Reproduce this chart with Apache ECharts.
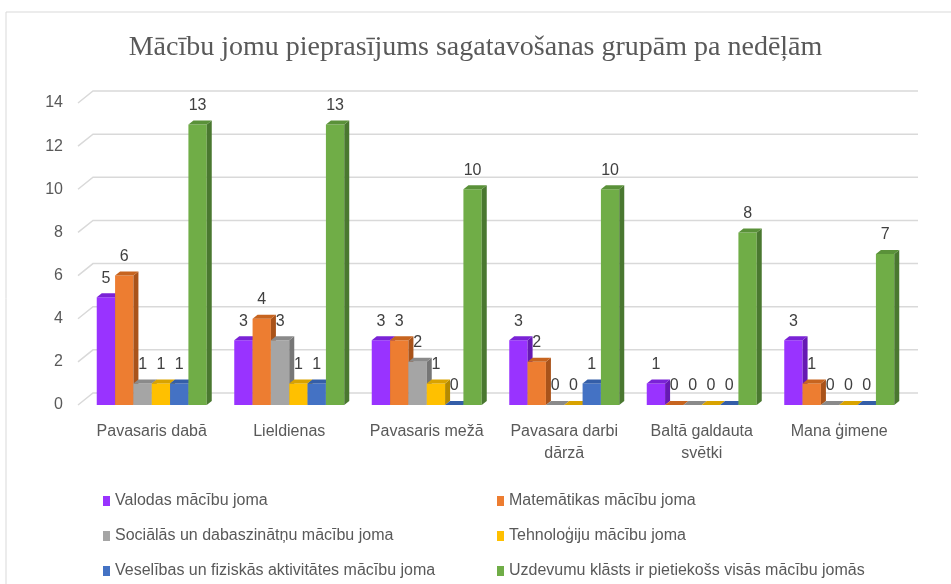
<!DOCTYPE html>
<html lang="lv">
<head>
    <meta charset="UTF-8">
    <title>Mācību jomu pieprasījums</title>
    <script src="https://cdn.jsdelivr.net/npm/echarts@6/dist/echarts.min.js"></script>
    <style>
        html, body { margin: 0; padding: 0; background: #fff; }
    </style>
</head>
<body>
<div id="main" style="width: 951px;height:584px;"></div>

<script type="text/javascript">
    // dati
    var categories = ['Pavasaris dabā', 'Lieldienas', 'Pavasaris mežā', 'Pavasara darbi\ndārzā', 'Baltā galdauta\nsvētki', 'Mana ģimene'];
    var seriesNames = [
        'Valodas mācību joma',
        'Matemātikas mācību joma',
        'Sociālās un dabaszinātņu mācību joma',
        'Tehnoloģiju mācību joma',
        'Veselības un fiziskās aktivitātes mācību joma',
        'Uzdevumu klāsts ir pietiekošs visās mācību jomās'
    ];
    var valodas = [5, 3, 3, 3, 1, 3];
    var matematika = [6, 4, 3, 2, 0, 1];
    var socialas = [1, 3, 2, 0, 0, 0];
    var tehnologijas = [1, 1, 1, 0, 0, 0];
    var veseliba = [1, 1, 0, 1, 0, 0];
    var uzdevumi = [13, 13, 10, 10, 8, 7];
    var yTicks = [0, 2, 4, 6, 8, 10, 12, 14];

    var allValues = [valodas, matematika, socialas, tehnologijas, veseliba, uzdevumi];
    // krāsas: priekša, augša, sāns
    var colors = [
        ['#9933ff', '#7a22d6', '#6619b3'],
        ['#ed7d31', '#c7641f', '#a9531a'],
        ['#a5a5a5', '#8a8a8a', '#767676'],
        ['#ffc000', '#d9a300', '#b58a00'],
        ['#4472c4', '#345ea8', '#2b4f8f'],
        ['#70ad47', '#5a9139', '#4a7830']
    ];

    var DX = 5, DY = 4;
    var font = 'Liberation Sans';

    function barRenderer(k) {
        return function (params, api) {
            var cat = api.value(0), v = api.value(1);
            var base = api.coord([cat, 0]);
            var top = api.coord([cat, v]);
            var bandW = api.size([1, 0])[0];
            var groupW = bandW * 0.8;
            var bw = groupW / 6;
            var x0 = base[0] - groupW / 2 + k * bw;
            var c = colors[k];
            var children = [];
            if (v > 0) {
                children.push({
                    type: 'rect',
                    shape: { x: x0, y: top[1], width: bw, height: base[1] - top[1] },
                    style: { fill: c[0] }
                });
                children.push({
                    type: 'polygon',
                    shape: { points: [[x0 + bw, top[1]], [x0 + bw + DX, top[1] - DY], [x0 + bw + DX, base[1] - DY], [x0 + bw, base[1]]] },
                    style: { fill: c[2] }
                });
            }
            children.push({
                type: 'polygon',
                shape: { points: [[x0, top[1]], [x0 + DX, top[1] - DY], [x0 + bw + DX, top[1] - DY], [x0 + bw, top[1]]] },
                style: { fill: c[1] }
            });
            children.push({
                type: 'text',
                style: {
                    text: String(v),
                    x: x0 + bw / 2,
                    y: top[1] - 19,
                    align: 'center',
                    verticalAlign: 'middle',
                    font: '16px "' + font + '"',
                    fill: '#404040'
                }
            });
            return { type: 'group', children: children };
        };
    }

    function gridRenderer(params, api) {
        var y = api.coord([0, api.value(1)])[1];
        var cs = params.coordSys;
        return {
            type: 'polyline',
            shape: { points: [[cs.x - 5, y], [cs.x + 10, y - 12], [cs.x + cs.width + 10, y - 12]] },
            style: { stroke: '#d9d9d9', lineWidth: 1.5, fill: null }
        };
    }

    var myChart = echarts.init(document.getElementById('main'));

    var series = [{
        name: 'grid',
        type: 'custom',
        silent: true,
        z: 1,
        renderItem: gridRenderer,
        data: yTicks.map(function (t) { return [0, t]; })
    }];
    allValues.forEach(function (vals, k) {
        series.push({
            name: seriesNames[k],
            type: 'custom',
            z: 2,
            itemStyle: { color: colors[k][0] },
            renderItem: barRenderer(k),
            data: vals.map(function (v, i) { return [i, v]; })
        });
    });

    var legendCommon = {
        orient: 'vertical',
        icon: 'rect',
        itemWidth: 7,
        itemHeight: 10,
        itemGap: 19,
        top: 488,
        selectedMode: false,
        textStyle: { color: '#595959', fontSize: 16, fontFamily: font, lineHeight: 16 }
    };

    var option = {
        animation: false,
        title: {
            text: 'Mācību jomu pieprasījums sagatavošanas grupām pa nedēļām',
            left: 'center',
            top: 29,
            textStyle: { fontFamily: 'Liberation Serif', fontWeight: 'normal', fontSize: 28, color: '#595959' }
        },
        graphic: [{
            type: 'rect',
            shape: { x: 6, y: 12, width: 960, height: 600 },
            style: { fill: null, stroke: '#d9d9d9', lineWidth: 1 },
            silent: true
        }],
        legend: [
            Object.assign({}, legendCommon, { left: 98, data: [seriesNames[0], seriesNames[2], seriesNames[4]] }),
            Object.assign({}, legendCommon, { left: 492, data: [seriesNames[1], seriesNames[3], seriesNames[5]] })
        ],
        grid: { left: 83, right: 43, top: 103, bottom: 179 },
        xAxis: {
            type: 'category',
            data: categories,
            axisLine: { show: false },
            axisTick: { show: false },
            axisLabel: { color: '#595959', fontSize: 16, fontFamily: font, lineHeight: 22, margin: 16, interval: 0 }
        },
        yAxis: {
            type: 'value',
            min: 0,
            max: 14,
            interval: 2,
            splitLine: { show: false },
            axisLine: { show: false },
            axisTick: { show: false },
            axisLabel: { color: '#595959', fontSize: 16, fontFamily: font, margin: 20 }
        },
        series: series
    };

    myChart.setOption(option);
</script>
</body>
</html>
